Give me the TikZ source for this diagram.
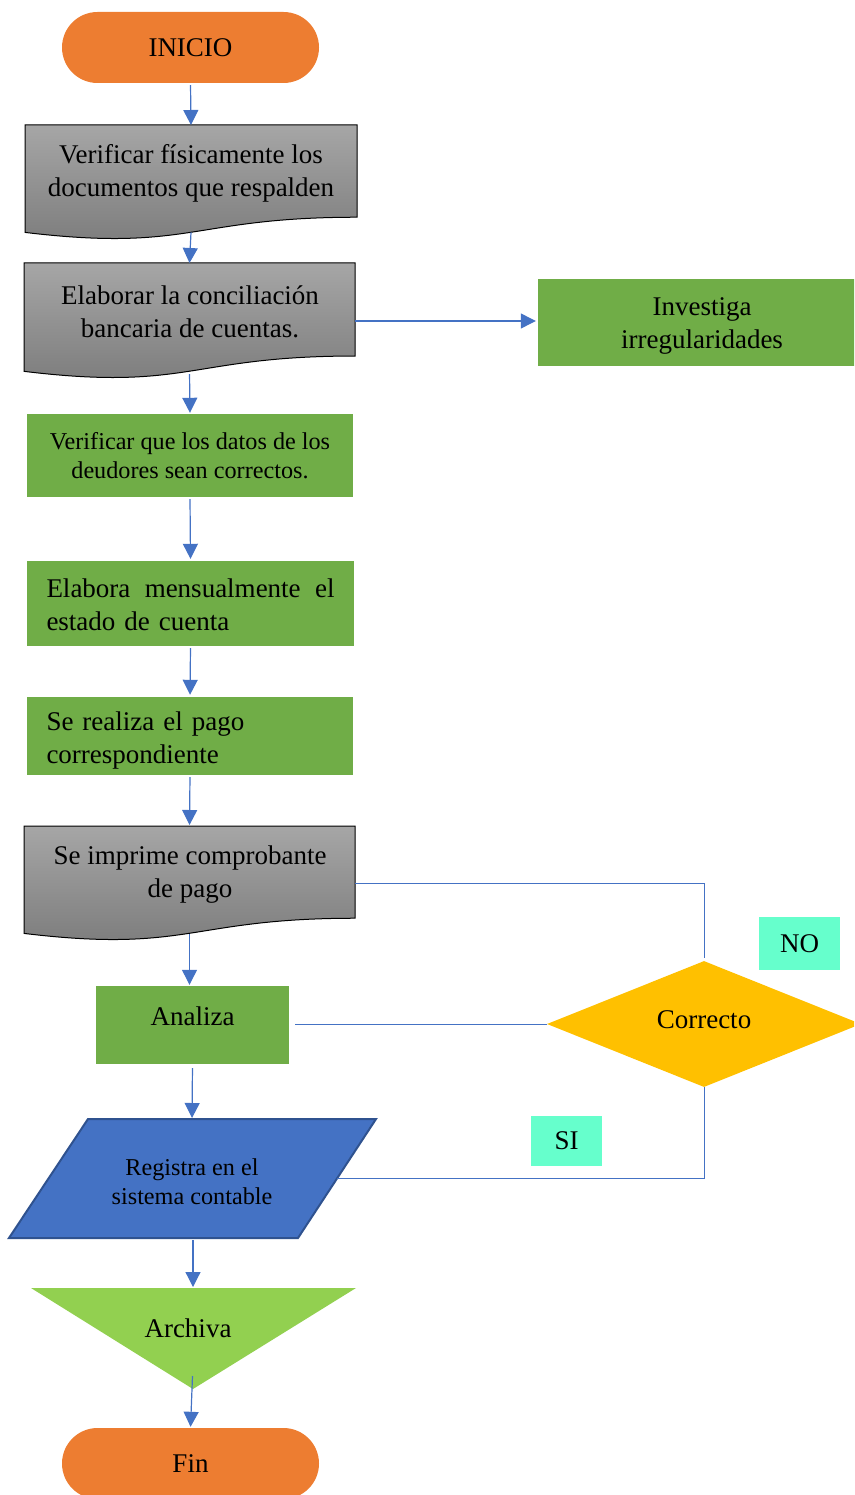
\documentclass[tikz,border=0pt]{standalone}
\usepackage{fontspec}
\setmainfont{Liberation Serif}
\usetikzlibrary{arrows.meta,shapes.geometric}

\definecolor{flowblue}{HTML}{4472C4}
\definecolor{procgreen}{HTML}{70AD47}
\definecolor{termorange}{HTML}{ED7D31}
\definecolor{decyellow}{HTML}{FFC000}
\definecolor{archgreen}{HTML}{92D050}
\definecolor{tagaqua}{HTML}{66FFCC}
\definecolor{ioborder}{HTML}{2F528F}
\definecolor{docgraytop}{HTML}{A6A6A6}
\definecolor{docgraybot}{HTML}{7A7A7A}

\tikzset{
  bigtext/.style={font=\fontsize{27}{33}\selectfont},
  smalltext/.style={font=\fontsize{24.2}{28.5}\selectfont},
  terminal/.style={bigtext, fill=termorange, rounded corners=35.5pt,
    minimum width=257pt, minimum height=71pt, inner sep=0pt},
  procbox/.style={fill=procgreen, inner sep=0pt},
  doctext/.style={bigtext, align=center, inner sep=0pt},
  tag/.style={bigtext, fill=tagaqua, inner sep=0pt},
  flowarrow/.style={draw=flowblue, line width=1.2pt,
    -{Triangle[length=15pt,width=15pt]}},
  flowline/.style={draw=flowblue, line width=0.9pt},
}

% document symbol: name, left x, top y, right x, full height
\newcommand\docshape[5]{%
  \path[top color=docgraytop, bottom color=docgraybot, draw=black, line width=1pt]
    (#2,#3) -- (#4,#3) -- (#4,{#3+0.802*#5})
    .. controls ({(#2+#4)/2},{#3+0.802*#5}) and ({(#2+#4)/2},{#3+1.107*#5}) ..
    (#2,{#3+0.934*#5}) -- cycle;
  \coordinate (#1-n) at ({(#2+#4)/2},#3);
  \coordinate (#1-s) at ({(#2+#4)/2},{#3+0.933*#5});
  \coordinate (#1-e) at (#4,{#3+0.5*#5});
}

\begin{document}
\begin{tikzpicture}[x=1pt,y=-1pt]
\useasboundingbox (0,0) rectangle (854,1495);
\clip (0,0) rectangle (854,1495);

% start
\node[terminal] (ini) at (190.5,47.5) {\raisebox{-2pt}{INICIO}};

% documents
\docshape{doc1}{25}{125}{357}{115}
\node[doctext] (doc1t) at (191,173) {Verificar físicamente los\\documentos que respalden};

\docshape{doc2}{24}{263}{355}{116}
\node[doctext] (doc2t) at (190,311.5) {Elaborar la conciliación\\bancaria de cuentas.};

% process boxes
\node[procbox, minimum width=328pt, minimum height=87pt] (inv) at (702,322.5) {};
\node[doctext] (invt) at (702,326) {Investiga\\irregularidades};

\node[procbox, smalltext, align=center, minimum width=326pt, minimum height=83pt]
  (ver) at (190,455.5) {Verificar que los datos de los\\deudores sean correctos.};

\node[procbox, minimum width=327pt, minimum height=85pt] (ela) at (190.5,603.5) {};
\node[bigtext, align=left, inner sep=0pt, text width=288pt] (elat) at (190.5,605)
  {\hbox to 288pt{Elabora\hfil mensualmente\hfil el}\\estado de cuenta};

\node[procbox, minimum width=326pt, minimum height=78pt] (pag) at (190,736) {};
\node[bigtext, align=left, inner sep=0pt, text width=288pt] (pagt) at (190.5,741)
  {Se realiza el pago\\correspondiente};

\docshape{doc3}{24}{826}{355}{115}
\node[doctext] (doc3t) at (190,875) {Se imprime comprobante\\de pago};

\node[procbox, minimum width=193pt, minimum height=78pt] (ana) at (192.5,1025) {};
\node[bigtext, inner sep=0pt] (anat) at (192.5,1016) {Analiza};

% decision
\node[diamond, fill=decyellow, minimum width=314pt, minimum height=126pt, inner sep=0pt]
  (dec) at (704,1024) {};
\node[bigtext, inner sep=0pt] (dect) at (704,1020) {Correcto};

\node[tag, minimum width=81pt, minimum height=53pt] (no) at (799.5,943.5) {\raisebox{-2pt}{NO}};
\node[tag, minimum width=71pt, minimum height=50pt] (si) at (566.5,1141) {\raisebox{-2pt}{SI}};

% input/output
\path[fill=flowblue, draw=ioborder, line width=2pt, line join=miter]
  (88,1119) -- (376,1119) -- (298,1238) -- (9,1238) -- cycle;
\node[smalltext, align=center, inner sep=0pt] (reg) at (192,1181.5) {Registra en el\\sistema contable};
\coordinate (reg-n) at (192,1119);
\coordinate (reg-s) at (193,1238);
\coordinate (reg-e) at (337,1178);

% archive
\path[fill=archgreen] (31,1288) -- (356,1288) -- (193,1389) -- cycle;
\node[bigtext, inner sep=0pt] (arc) at (188,1328) {Archiva};
\coordinate (arc-n) at (193,1288);
\coordinate (arc-in) at (192.5,1376);

% end
\node[terminal] (fin) at (190.5,1463.5) {\raisebox{-2pt}{Fin}};

% arrows
\draw[flowarrow, shorten <=2pt] (ini.south) -- (doc1-n);
\draw[flowarrow] (doc1-s) -- (doc2-n);
\draw[flowarrow, shorten >=2pt] (doc2-e) -- (doc2-e -| inv.west);
\draw[flowarrow, shorten <=3pt, shorten >=1pt] (doc2-s) -- (ver.north);
\draw[flowarrow, shorten <=2pt, shorten >=2pt] (ver.south) -- (ela.north);
\draw[flowarrow, shorten <=2pt, shorten >=2pt] (ela.south) -- (pag.north);
\draw[flowarrow, shorten <=2pt, shorten >=1pt] (pag.south) -- (doc3-n);
\draw[flowarrow, shorten <=1pt, shorten >=1pt] (doc3-s) -- (doc3-s |- ana.north);
\draw[flowarrow, shorten <=4pt, shorten >=1pt] (ana.south) -- (reg-n);
\draw[flowarrow, shorten <=2pt, shorten >=1pt] (reg-s) -- (arc-n);
\draw[flowarrow, shorten >=1pt] (arc-in) -- (fin.north);

% decision connectors
\draw[flowline, shorten >=3pt] (doc3-e) -| (dec.north);
\draw[flowline, shorten >=6pt] (dec.west) -- (dec.west -| ana.east);
\draw[flowline] (dec.south) |- (reg-e);
\end{tikzpicture}
\end{document}
